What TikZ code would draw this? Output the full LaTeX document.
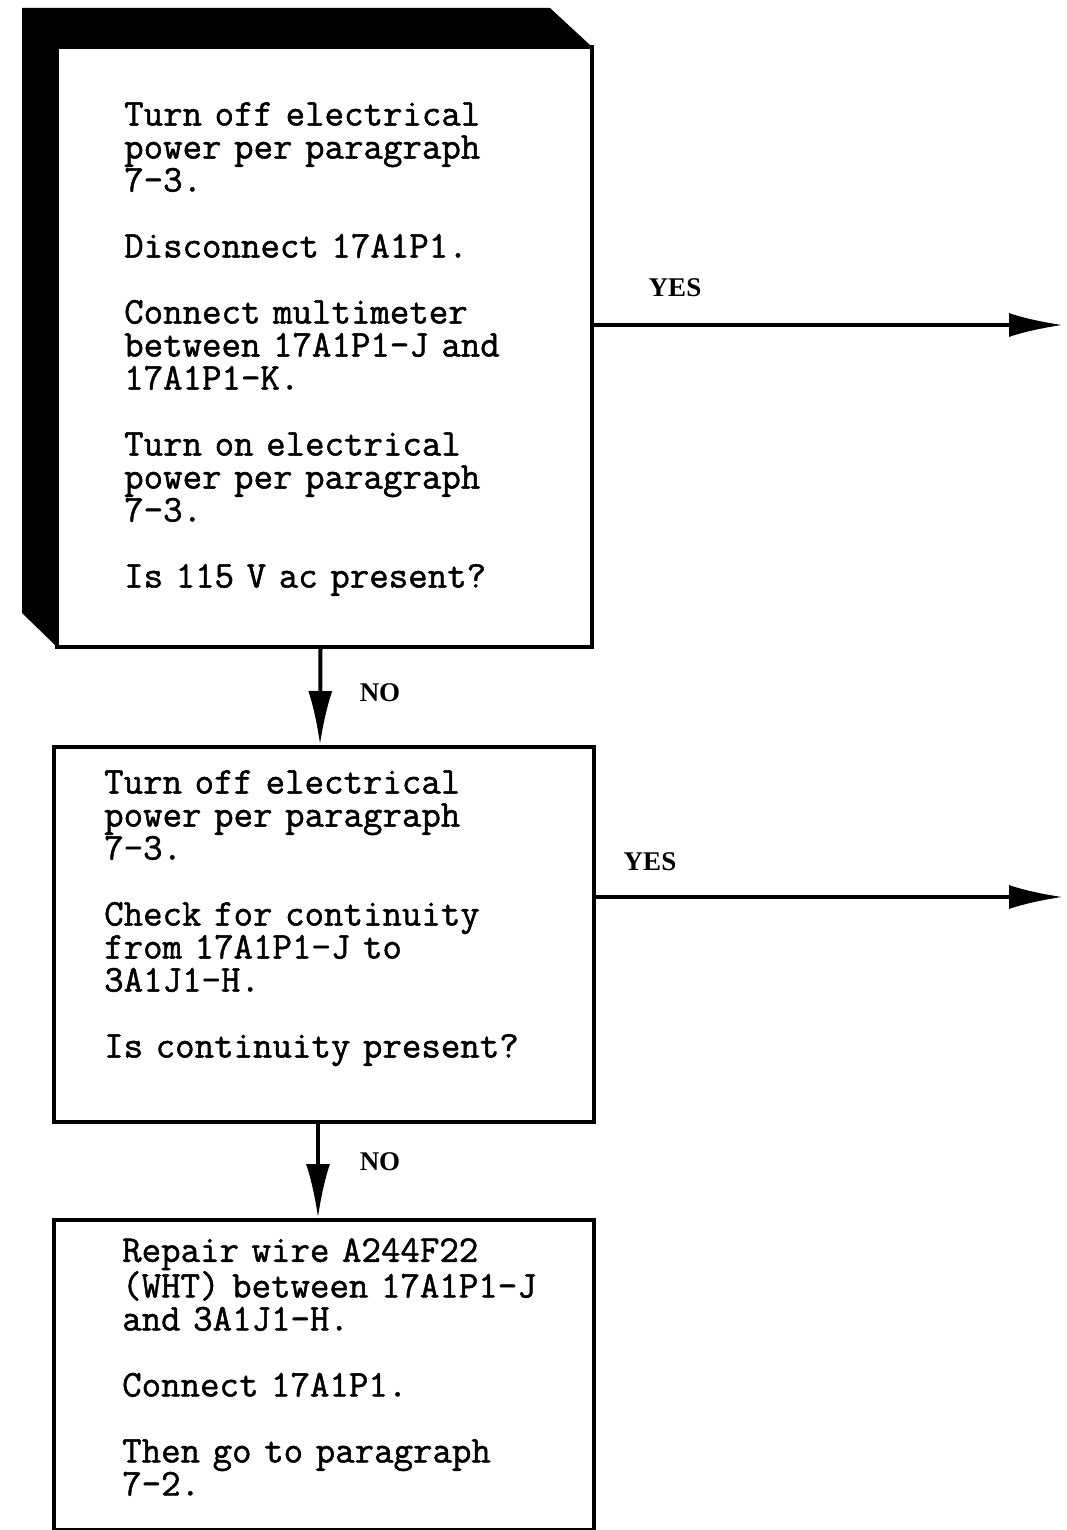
\documentclass[tikz,border=0pt]{standalone}
\usepackage{fontspec}
\newfontfamily\typewriter{Latin Modern Mono}[UprightFeatures={FakeBold=1.3}]
\newfontfamily\labelfont{Liberation Serif}
\usetikzlibrary{arrows.meta,calc}
\tikzset{
  boxframe/.style={draw,line width=4pt,inner sep=0pt,anchor=north west},
  boxtext/.style={anchor=north west,inner sep=0pt,align=left,text width=450pt,
    font=\typewriter\fontsize{37.8}{33}\selectfont},
  flowarrow/.style={line width=4pt,-{Latex[length=54pt,width=24pt]}},
  answer/.style={font=\labelfont\bfseries\fontsize{27}{27}\selectfont,inner sep=0pt}
}
\begin{document}
\begin{tikzpicture}[x=1pt,y=-1pt]
  \useasboundingbox (0,0) rectangle (1067,1530);
  % heavy frame of the first box
  \fill (22,8) -- (550,8) -- (590,45) -- (55,45) -- (55,645) -- (22,613) -- cycle;
  \node[boxframe,minimum width=535pt,minimum height=600pt] (check1) at (55,45) {};
  \node[boxframe,minimum width=540pt,minimum height=375pt] (check2) at (52,745) {};
  \node[boxframe,minimum width=540pt,minimum height=310pt] (repair) at (52,1218) {};
  % texts
  \node[boxtext] (txt1) at (124,102) {Turn off electrical\\power per paragraph\\7-3.\\[33pt]
    Disconnect 17A1P1.\\[33pt]
    Connect multimeter\\between 17A1P1-J and\\17A1P1-K.\\[33pt]
    Turn on electrical\\power per paragraph\\7-3.\\[33pt]
    Is 115 V ac present?};
  \node[boxtext] (txt2) at (104,770) {Turn off electrical\\power per paragraph\\7-3.\\[33pt]
    Check for continuity\\from 17A1P1-J to\\3A1J1-H.\\[33pt]
    Is continuity present?};
  \node[boxtext] (txt3) at (122,1238) {Repair wire A244F22\\(WHT) between 17A1P1-J\\and 3A1J1-H.\\[33pt]
    Connect 17A1P1.\\[33pt]
    Then go to paragraph\\7-2.};
  % NO branches
  \draw[flowarrow] ([xshift=-4pt]check1.south) -- ([xshift=-4pt]check2.north);
  \draw[flowarrow] ([xshift=-6pt]check2.south) -- ([xshift=-6pt]repair.north);
  \node[answer] (no1) at (380,693) {NO};
  \node[answer] (no2) at (380,1162) {NO};
  % YES branches
  \coordinate (out1) at (1063,325);
  \coordinate (out2) at (1063,897);
  \draw[flowarrow] (check1.east |- out1) -- (out1);
  \draw[flowarrow] (check2.east |- out2) -- (out2);
  \node[answer] (yes1) at (675,288) {YES};
  \node[answer] (yes2) at (650,862) {YES};
\end{tikzpicture}
\end{document}
